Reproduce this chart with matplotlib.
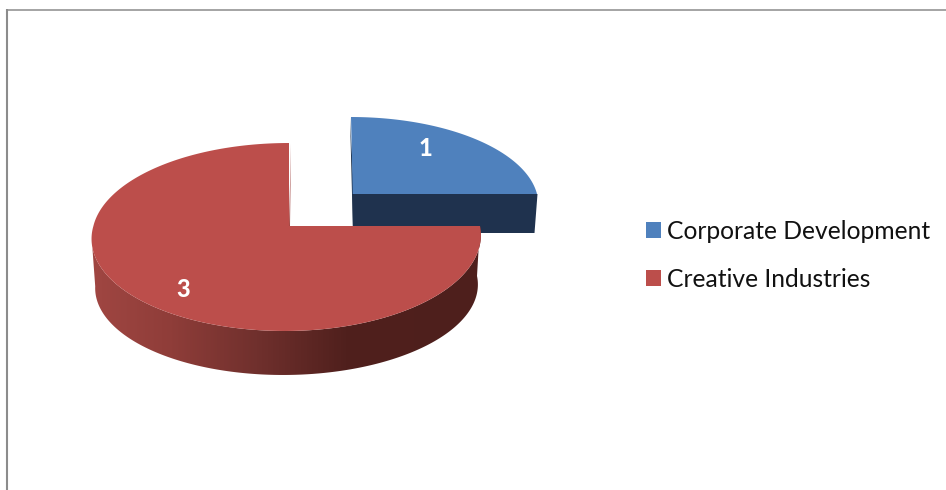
import numpy as np
import matplotlib
matplotlib.use("Agg")
import matplotlib.pyplot as plt
from matplotlib.colors import LinearSegmentedColormap
from matplotlib.patches import Patch, Polygon

categories = ["Corporate Development", "Creative Industries"]
values = [1, 3]
top_colors = ["#4F81BD", "#BC4E4B"]
label_pos = [(425, 148), (183, 289)]

plt.rcParams["font.family"] = ["Lato", "DejaVu Sans"]
fig = plt.figure(figsize=(9.46, 4.90), dpi=100, facecolor="white")
ax = fig.add_axes([0, 0, 1, 1])
ax.axis("off")

total = sum(values)
spans = [360 * v / total for v in values]
starts = [0, spans[0]]


def project(theta_deg, cx, cy, rx_l, rx_r, a, k=0.117, skew=0.0):
    t = np.radians(theta_deg)
    u, v = np.sin(t), np.cos(t)
    rx = np.where(u < 0, rx_l, rx_r)
    d = 1 + k * v
    x = cx + rx * u / d + skew * np.minimum(v, 0)
    y = cy - a * v / d
    return x, y


# blue slice
th = np.linspace(starts[0], starts[0] + spans[0], 80)
bx, by = project(th, 352, 194, 185, 185, 86)
ax.add_patch(Polygon([(350, 117), (352, 194), (353, 233), (354, 233), (354, 194)],
                     fc="#1A2E48", ec="none", zorder=1))
ax.add_patch(Polygon([(352.5, 194), (537.5, 194), (534.5, 233), (353, 233)],
                     fc="#1F324E", ec="none", zorder=1))
ax.add_patch(Polygon(np.r_[[[352.7, 194]], np.c_[bx - np.linspace(1, 0, 80), by]],
                     fc=top_colors[0], ec="none", zorder=2))

# red slice: side wall with gradient
th = np.linspace(starts[1], starts[1] + spans[1], 400)
rx_, ry_ = project(th, 289, 226, 195.6, 191, 92.7, skew=4)
front = np.linspace(90, 263.3, 300)
fx, fy = project(front, 289, 226, 195.6, 191, 92.7, skew=4)
lx, ly = project(front, 287, 276, 190, 190, 87.4, skew=4)
side = Polygon(np.r_[np.c_[fx, fy], np.c_[lx, ly][::-1]], fc="none", ec="none",
               transform=ax.transData, zorder=3)
ax.add_patch(side)
cmap = LinearSegmentedColormap.from_list(
    "side", [(0.0, "#A04642"), (0.2, "#8F3D39"), (0.42, "#70302D"),
             (0.65, "#50201D"), (1.0, "#4E1F1C")])
im = ax.imshow(np.linspace(0, 1, 400)[None, :], extent=(92, 482, 400, 220),
               cmap=cmap, aspect="auto", zorder=3)
im.set_clip_path(side)

# red top face
ax.add_patch(Polygon([(291, 143), (289, 226), (290, 226)], fc="#A24643", ec="none", zorder=3))
ax.add_patch(Polygon(np.r_[[[289, 226]], np.c_[rx_, ry_]],
                     fc=top_colors[1], ec="none", zorder=4))

# data labels
for val, (x, y) in zip(values, label_pos):
    ax.text(x, y, str(val), color="white", fontsize=17, fontweight="black",
            ha="center", va="center", zorder=6)

# frame lines
ax.plot([7, 7], [9.5, 490], color="#8C8C8C", lw=1.5, zorder=0, solid_capstyle="butt")
ax.plot([6, 946], [9.7, 9.7], color="#8C8C8C", lw=1.1, zorder=0, solid_capstyle="butt")

ax.set_xlim(0, 946)
ax.set_ylim(490, 0)

handles = [Patch(fc=c, ec="none", label=n) for c, n in zip(top_colors, categories)]
fs = 17.7
ax.legend(handles=handles, loc="upper left", bbox_to_anchor=(641, 215),
          bbox_transform=ax.transData, frameon=False, fontsize=fs,
          handlelength=10.8 / fs, handleheight=10.8 / fs, handletextpad=0.23,
          labelspacing=1.0, borderpad=0, borderaxespad=0.2, labelcolor="#111111")

fig.savefig("out.png", dpi=100, facecolor="white")
